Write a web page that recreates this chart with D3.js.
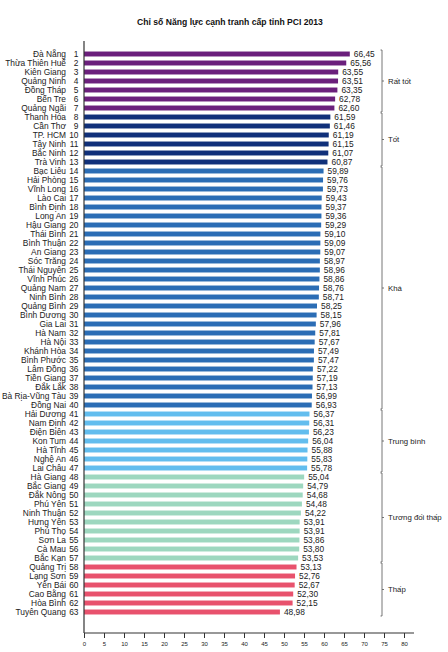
<!DOCTYPE html>
<html>
<head>
<meta charset="utf-8">
<script src="https://cdn.jsdelivr.net/npm/d3@7"></script>
<style>
  body { margin: 0; background: #fff; }
  svg { font-family: "Liberation Sans", Arial, sans-serif; }
</style>
</head>
<body>
<svg id="chart" width="448" height="652"></svg>
<script>
const provinces = ["Đà Nẵng","Thừa Thiên Huế","Kiên Giang","Quảng Ninh","Đồng Tháp","Bến Tre","Quảng Ngãi",
    "Thanh Hóa","Cần Thơ","TP. HCM","Tây Ninh","Bắc Ninh","Trà Vinh",
    "Bạc Liêu","Hải Phòng","Vĩnh Long","Lào Cai","Bình Định","Long An","Hậu Giang","Thái Bình","Bình Thuận",
    "An Giang","Sóc Trăng","Thái Nguyên","Vĩnh Phúc","Quảng Nam","Ninh Bình","Quảng Bình","Bình Dương",
    "Gia Lai","Hà Nam","Hà Nội","Khánh Hòa","Bình Phước","Lâm Đồng","Tiền Giang","Đắk Lắk","Bà Rịa-Vũng Tàu","Đồng Nai",
    "Hải Dương","Nam Định","Điện Biên","Kon Tum","Hà Tĩnh","Nghệ An","Lai Châu",
    "Hà Giang","Bắc Giang","Đắk Nông","Phú Yên","Ninh Thuận","Hưng Yên","Phú Thọ","Sơn La","Cà Mau","Bắc Kạn",
    "Quảng Trị","Lạng Sơn","Yên Bái","Cao Bằng","Hòa Bình","Tuyên Quang"];

const scores = [66.45,65.56,63.55,63.51,63.35,62.78,62.60,
    61.59,61.46,61.19,61.15,61.07,60.87,
    59.89,59.76,59.73,59.43,59.37,59.36,59.29,59.10,59.09,
    59.07,58.97,58.96,58.86,58.76,58.71,58.25,58.15,
    57.96,57.81,57.67,57.49,57.47,57.22,57.19,57.13,56.99,56.93,
    56.37,56.31,56.23,56.04,55.88,55.83,55.78,
    55.04,54.79,54.68,54.48,54.22,53.91,53.91,53.86,53.80,53.53,
    53.13,52.76,52.67,52.30,52.15,48.98];

const groupNames = ["Rất tốt","Tốt","Khá","Trung bình","Tương đối thấp","Thấp"];
const groupFirst = [1, 8, 14, 41, 48, 58];
const groupLast  = [7, 13, 40, 47, 57, 63];
const groupColours = ["#6b1f7c","#10307a","#2b6db5","#62bdee","#9dd7bf","#e8526d"];

const xTicks = d3.range(0, 81, 5);

const data = provinces.map((name, i) => ({
    name: name,
    rank: i + 1,
    score: scores[i],
    group: groupFirst.findIndex((f, g) => i + 1 >= f && i + 1 <= groupLast[g])
}));

const svg = d3.select('#chart');

const x = d3.scaleLinear().domain([0, 80]).range([84, 404]);
const y = d3.scaleBand()
            .domain(data.map(d => d.rank))
            .range([49.5, 616.5])
            .paddingInner(0.45)
            .paddingOuter(0.225);

const fmt = d3.formatLocale({decimal: ",", thousands: ".", grouping: [3], currency: ["", ""]}).format(".2f");

// title
svg.append('text')
    .attr('x', 230)
    .attr('y', 25)
    .attr('text-anchor', 'middle')
    .style('font-weight', 'bold')
    .style('font-size', '8.6px')
    .attr('fill', '#111')
    .text('Chỉ số Năng lực cạnh tranh cấp tỉnh PCI 2013');

// bars
svg.selectAll('.bar')
    .data(data)
    .enter()
    .append('rect')
        .classed('bar', true)
        .attr('x', x(0))
        .attr('y', d => y(d.rank))
        .attr('width', d => x(d.score) - x(0))
        .attr('height', y.bandwidth())
        .attr('fill', d => groupColours[d.group]);

// values
svg.selectAll('.value')
    .data(data)
    .enter()
    .append('text')
        .classed('value', true)
        .attr('x', d => x(d.score) + 4)
        .attr('y', d => y(d.rank) + y.bandwidth() / 2)
        .attr('dy', '0.36em')
        .style('font-size', '8.4px')
        .attr('fill', '#222')
        .text(d => fmt(d.score));

// names and ranks
svg.selectAll('.name')
    .data(data)
    .enter()
    .append('text')
        .classed('name', true)
        .attr('x', 66)
        .attr('y', d => y(d.rank) + y.bandwidth() / 2)
        .attr('dy', '0.36em')
        .attr('text-anchor', 'end')
        .style('font-size', '8.4px')
        .attr('fill', '#222')
        .text(d => d.name);

svg.selectAll('.rank')
    .data(data)
    .enter()
    .append('text')
        .classed('rank', true)
        .attr('x', 78.5)
        .attr('y', d => y(d.rank) + y.bandwidth() / 2)
        .attr('dy', '0.36em')
        .attr('text-anchor', 'end')
        .style('font-size', '8.4px')
        .attr('fill', '#222')
        .text(d => d.rank);

// axes
const xAxis = svg.append('g')
    .attr('transform', 'translate(0,633)')
    .call(d3.axisBottom(x).tickValues(xTicks).tickSize(5).tickPadding(4));
xAxis.select('.domain').attr('d', `M${x(0)},0H${x(82.5)}`).attr('stroke', '#333').attr('stroke-width', 1.2);
xAxis.selectAll('.tick line').attr('stroke', '#333');
xAxis.selectAll('.tick text').style('font-size', '6px').attr('fill', '#222')
    .style('font-family', '"Liberation Sans", Arial, sans-serif');

svg.append('line')
    .attr('x1', x(0)).attr('x2', x(0))
    .attr('y1', 41).attr('y2', 633)
    .attr('stroke', '#333')
    .attr('stroke-width', 1.2);

// group brackets
const bx = 382;
const brackets = svg.selectAll('.bracket')
    .data(groupNames)
    .enter()
    .append('g')
        .classed('bracket', true);

brackets.append('path')
    .attr('d', (d, i) => {
        const top = y(groupFirst[i]) - 1.5, bot = y(groupLast[i]) + y.bandwidth() + 1.5;
        return `M${bx - 1.5},${top}H${bx}V${bot}H${bx - 1.5}`;
    })
    .attr('fill', 'none')
    .attr('stroke', '#666')
    .attr('stroke-width', 0.9);

brackets.append('line')
    .attr('x1', bx).attr('x2', bx + 2)
    .attr('y1', (d, i) => (y(groupFirst[i]) + y(groupLast[i]) + y.bandwidth()) / 2)
    .attr('y2', (d, i) => (y(groupFirst[i]) + y(groupLast[i]) + y.bandwidth()) / 2)
    .attr('stroke', '#666')
    .attr('stroke-width', 0.9);

brackets.append('text')
    .attr('x', bx + 6)
    .attr('y', (d, i) => (y(groupFirst[i]) + y(groupLast[i]) + y.bandwidth()) / 2)
    .attr('dy', '0.36em')
    .style('font-size', '7.8px')
    .attr('fill', '#222')
    .text(d => d);
</script>
</body>
</html>
